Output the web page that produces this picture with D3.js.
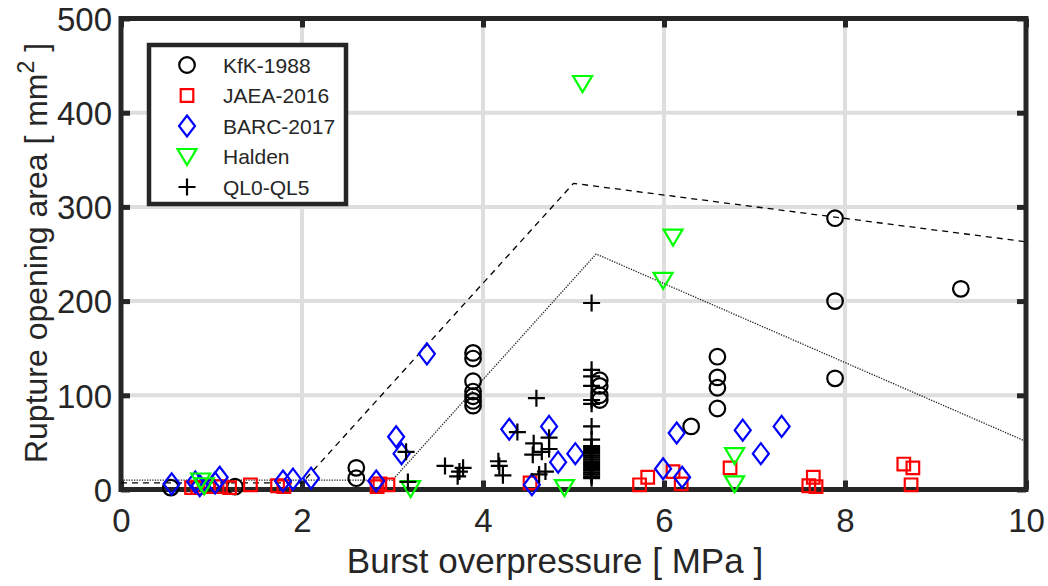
<!DOCTYPE html>
<html><head><meta charset="utf-8">
<script src="https://cdn.jsdelivr.net/npm/d3@7"></script>
<style>
body{margin:0;background:#fff}
text{font-family:"Liberation Sans",Arial,Helvetica,sans-serif;fill:#262626}
</style>
</head><body>
<svg id="chart" width="1048" height="586"></svg>
<script>
// Axis ticks
const xTicks = [0, 2, 4, 6, 8, 10];
const yTicks = [0, 100, 200, 300, 400, 500];

// Series: [burst overpressure (MPa), rupture opening area (mm^2)]
const kfk1988 = [[0.55,2],[1.26,3],[2.6,23],[2.6,12],[3.89,145],[3.89,139],[3.89,115],[3.89,104],[3.89,99],[3.89,94],[3.89,89],
  [5.29,116],[5.29,110],[5.29,100],[5.29,95],[6.3,67],[6.59,141],[6.59,119],[6.59,108],[6.59,86],[7.89,288],[7.89,200],[7.89,118],[9.28,213]];
const jaea2016 = [[0.78,2],[0.85,2],[0.97,3],[1.1,3],[1.2,2],[1.43,5],[1.73,4],[1.8,3],[2.83,3],[2.86,6],[2.95,5],[4.52,7],
  [5.73,5],[5.82,13],[6.1,19],[6.19,6],[6.73,23],[7.6,4],[7.65,13],[7.68,3],[8.65,27],[8.75,23],[8.73,5]];
const barc2017 = [[0.56,6],[0.82,8],[0.87,4],[1.04,7],[1.09,13],[1.79,9],[1.9,11],[2.1,12],[2.82,9],[3.04,56],[3.1,38],[3.38,144],
  [4.29,64],[4.54,5],[4.73,67],[4.83,29],[5.02,38],[5.99,22],[6.14,60],[6.2,13],[6.87,63],[7.07,38],[7.3,67]];
const halden = [[0.88,9],[0.92,4],[3.2,1],[4.9,2],[5.1,431],[5.99,222],[6.1,268],[6.78,36],[6.78,6]];
const ql0ql5 = [[3.15,40],[3.17,8],[3.58,25],[3.72,14],[3.74,19],[3.78,23],[4.17,30],[4.18,25],[4.22,15],[4.38,61],[4.59,97],
  [4.56,49],[4.55,37],[4.65,40],[4.73,55],[4.73,43],[4.69,19],[4.62,16],
  [5.2,198],[5.2,127],[5.2,120],[5.2,110],[5.2,95],[5.2,91],[5.2,67],[5.2,53],
  [5.2,46],[5.2,44],[5.2,42],[5.2,40],[5.2,38],[5.2,36],[5.2,34],[5.2,32],[5.2,30],[5.2,28],[5.2,26],[5.2,24],
  [5.2,22],[5.2,20],[5.2,18],[5.2,16],[5.2,14],[5.2,12]];

// Envelope curves
const upperX = [0, 2, 5, 10];
const upperY = [7, 7, 325, 263];
const lowerX = [0, 3, 5.25, 10];
const lowerY = [10, 10, 250, 51];

const seriesNames = ["KfK-1988", "JAEA-2016", "BARC-2017", "Halden", "QL0-QL5"];
const seriesColors = ["#000000", "#ff0000", "#0000ff", "#00ff00", "#000000"];
const seriesData = [kfk1988, jaea2016, barc2017, halden, ql0ql5];
const seriesShapes = ["circle", "square", "diamond", "triangle", "plus"];

const svg = d3.select("#chart");
const pL = 121, pR = 1026, pT = 18.5, pB = 489.5;
const x = d3.scaleLinear().domain([0, 10]).range([pL, pR]);
const y = d3.scaleLinear().domain([0, 500]).range([pB, pT]);
const axisCol = "#262626";

// Grid
const grid = svg.append("g");
grid.selectAll(".gx").data(xTicks.slice(1, -1)).join("line")
  .attr("x1", d => x(d)).attr("x2", d => x(d)).attr("y1", pT).attr("y2", pB)
  .attr("stroke", "#dedede").attr("stroke-width", 4);
grid.selectAll(".gy").data(yTicks.slice(1, -1)).join("line")
  .attr("y1", d => y(d)).attr("y2", d => y(d)).attr("x1", pL).attr("x2", pR)
  .attr("stroke", "#dedede").attr("stroke-width", 4);

// Axes with inward ticks on all four sides
const tickLen = 9;
const axB = d3.axisBottom(x).tickValues(xTicks).tickSize(-tickLen).tickPadding(19);
const axT = d3.axisTop(x).tickValues(xTicks).tickSize(-tickLen).tickFormat("");
const axL = d3.axisLeft(y).tickValues(yTicks).tickSize(-tickLen).tickPadding(9);
const axR = d3.axisRight(y).tickValues(yTicks).tickSize(-tickLen).tickFormat("");
function styleAxis(g) {
  g.select(".domain").remove();
  g.selectAll(".tick line").attr("stroke", axisCol).attr("stroke-width", 5);
  g.selectAll(".tick text").attr("fill", axisCol).style("font-size", "33px")
    .style("font-family", '"Liberation Sans",Arial,sans-serif');
}
svg.append("g").attr("transform", `translate(0,${pB})`).call(axB).call(styleAxis)
  .selectAll(".tick text").attr("dy", "0.71em");
svg.append("g").attr("transform", `translate(0,${pT})`).call(axT).call(styleAxis);
svg.append("g").attr("transform", `translate(${pL},0)`).call(axL).call(styleAxis)
  .selectAll(".tick text").attr("dy", "0.36em");
svg.append("g").attr("transform", `translate(${pR},0)`).call(axR).call(styleAxis);

// Frame
svg.append("rect").attr("x", pL).attr("y", pT).attr("width", pR - pL).attr("height", pB - pT)
  .attr("fill", "none").attr("stroke", axisCol).attr("stroke-width", 5);

// Envelope lines
const lineGen = d3.line().x(d => x(d[0])).y(d => y(d[1]));
svg.append("path").datum(upperX.map((v, i) => [v, upperY[i]])).attr("d", lineGen)
  .attr("fill", "none").attr("stroke", "#000").attr("stroke-width", 1.3).attr("stroke-dasharray", "6,5");
svg.append("path").datum(lowerX.map((v, i) => [v, lowerY[i]])).attr("d", lineGen)
  .attr("fill", "none").attr("stroke", "#222").attr("stroke-width", 1.3).attr("stroke-dasharray", "1.3,1.3");

// Marker shapes
function markerPath(shape) {
  switch (shape) {
    case "circle": return "M7.8,0A7.8,7.8 0 1,1 -7.8,0A7.8,7.8 0 1,1 7.8,0Z";
    case "square": return "M-6.3,-6.3H6.3V6.3H-6.3Z";
    case "diamond": return "M0,-10.5L8,0L0,10.5L-8,0Z";
    case "triangle": return "M-9.5,-7.5H9.5L0,8.5Z";
    case "plus": return "M-8.5,0H8.5M0,-8.5V8.5";
  }
}

seriesData.forEach((data, i) => {
  svg.append("g").selectAll("path").data(data).join("path")
    .attr("transform", d => `translate(${x(d[0])},${y(d[1])})`)
    .attr("d", markerPath(seriesShapes[i]))
    .attr("fill", "none").attr("stroke", seriesColors[i]).attr("stroke-width", 2.2);
});

// Axis titles
svg.append("text").attr("x", 555).attr("y", 573).attr("text-anchor", "middle")
  .style("font-size", "35px").text("Burst overpressure [ MPa ]");
const yl = svg.append("text").attr("transform", `translate(47,253) rotate(-90)`)
  .attr("text-anchor", "middle").style("font-size", "32px");
yl.append("tspan").text("Rupture opening area [ mm");
yl.append("tspan").attr("dy", -13).style("font-size", "23px").text("2");
yl.append("tspan").attr("dy", 13).text(" ]");

// Legend
const lg = svg.append("g");
lg.append("rect").attr("x", 149).attr("y", 45).attr("width", 197).attr("height", 159)
  .attr("fill", "#fff").attr("stroke", axisCol).attr("stroke-width", 4.5);
seriesNames.forEach((name, i) => {
  const cy = 65 + i * 30.5;
  lg.append("path").attr("transform", `translate(187,${cy})`).attr("d", markerPath(seriesShapes[i]))
    .attr("fill", "none").attr("stroke", seriesColors[i]).attr("stroke-width", 2.2);
  lg.append("text").attr("x", 223).attr("y", cy).attr("dy", "0.36em").style("font-size", "21px").text(name);
});
</script>
</body></html>
